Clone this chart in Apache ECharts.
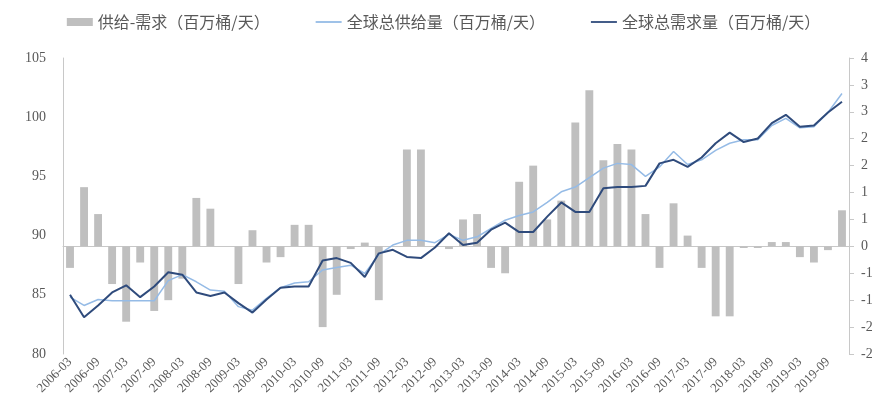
<!DOCTYPE html>
<html>
<head>
<meta charset="utf-8">
<script src="https://cdn.jsdelivr.net/npm/echarts@6/dist/echarts.min.js"></script>
<style>
html,body{margin:0;padding:0;background:#fff;}
#chart{width:887px;height:419px;}
</style>
</head>
<body>
<div id="chart"></div>
<script>
var categories = [
 '2006-03','2006-06','2006-09','2006-12','2007-03','2007-06','2007-09','2007-12',
 '2008-03','2008-06','2008-09','2008-12','2009-03','2009-06','2009-09','2009-12',
 '2010-03','2010-06','2010-09','2010-12','2011-03','2011-06','2011-09','2011-12',
 '2012-03','2012-06','2012-09','2012-12','2013-03','2013-06','2013-09','2013-12',
 '2014-03','2014-06','2014-09','2014-12','2015-03','2015-06','2015-09','2015-12',
 '2016-03','2016-06','2016-09','2016-12','2017-03','2017-06','2017-09','2017-12',
 '2018-03','2018-06','2018-09','2018-12','2019-03','2019-06','2019-09','2019-12'
];
var balance = [
 -0.4, 1.1, 0.6, -0.7, -1.4, -0.3, -1.2, -1.0, -0.6, 0.9,
 0.7, 0.0, -0.7, 0.3, -0.3, -0.2, 0.4, 0.4, -1.5, -0.9,
 -0.05, 0.07, -1.0, 0.0, 1.8, 1.8, 0.0, -0.05, 0.5, 0.6,
 -0.4, -0.5, 1.2, 1.5, 0.5, 0.85, 2.3, 2.9, 1.6, 1.9,
 1.8, 0.6, -0.4, 0.8, 0.2, -0.4, -1.3, -1.3, -0.03, -0.03,
 0.08, 0.08, -0.2, -0.3, -0.07, 0.67
];
var supply = [
 84.8, 84.1, 84.6, 84.5, 84.5, 84.5, 84.5, 86.2, 86.7, 86.1,
 85.4, 85.3, 84.0, 83.7, 84.7, 85.6, 86.0, 86.1, 87.1, 87.3,
 87.5, 86.8, 88.4, 89.2, 89.6, 89.6, 89.4, 90.1, 89.6, 89.9,
 90.6, 91.3, 91.7, 92.0, 92.8, 93.7, 94.1, 94.9, 95.7, 96.1,
 96.0, 95.0, 95.8, 97.1, 96.0, 96.4, 97.2, 97.8, 98.1, 98.1,
 99.3, 99.9, 99.1, 99.2, 100.4, 102.0
];
var demand = [
 85.0, 83.1, 84.1, 85.2, 85.8, 84.8, 85.7, 86.9, 86.7, 85.2,
 84.9, 85.2, 84.3, 83.5, 84.6, 85.6, 85.7, 85.7, 87.9, 88.1,
 87.7, 86.5, 88.5, 88.8, 88.2, 88.1, 89.0, 90.2, 89.2, 89.4,
 90.5, 91.1, 90.3, 90.3, 91.6, 92.8, 92.0, 92.0, 94.0, 94.1,
 94.1, 94.2, 96.1, 96.4, 95.8, 96.6, 97.8, 98.7, 97.9, 98.2,
 99.5, 100.2, 99.2, 99.3, 100.4, 101.3
];
var seriesNames = ['供给-需求（百万桶/天）', '全球总供给量（百万桶/天）', '全球总需求量（百万桶/天）'];

var chart = echarts.init(document.getElementById('chart'), null, {renderer: 'canvas'});
var serif = '"Liberation Serif", "Times New Roman", serif';
var axisColor = '#c8c8c8';
var labelColor = '#595959';
var lineIcon = 'path://M0,0L0,0M0,8L0,8M0,3.1L26,3.1L26,4.9L0,4.9Z';
chart.setOption({
  animation: false,
  backgroundColor: '#fff',
  legend: {
    top: 9,
    left: 'center',
    itemWidth: 26,
    itemHeight: 8,
    itemGap: 46,
    textStyle: {fontFamily: '"Noto Sans CJK SC", sans-serif', fontSize: 16, color: labelColor},
    data: [
      {name: seriesNames[0], icon: 'rect'},
      {name: seriesNames[1], icon: lineIcon},
      {name: seriesNames[2], icon: lineIcon}
    ]
  },
  grid: {left: 63, right: 38, top: 58, bottom: 65},
  xAxis: {
    type: 'category',
    data: categories,
    boundaryGap: true,
    axisLine: {lineStyle: {color: axisColor, width: 1}},
    axisTick: {show: false},
    axisLabel: {interval: 1, rotate: 45, fontFamily: serif, fontSize: 13, color: labelColor, margin: 6}
  },
  yAxis: [
    {
      type: 'value', min: 80, max: 105, interval: 5, position: 'left',
      axisLine: {show: true, lineStyle: {color: axisColor}},
      axisTick: {show: false},
      splitLine: {show: false},
      axisLabel: {fontFamily: serif, fontSize: 14, color: labelColor, margin: 17}
    },
    {
      type: 'value', min: -2, max: 3.5, interval: 0.5, position: 'right',
      axisLine: {show: true, lineStyle: {color: axisColor}},
      axisTick: {show: true, length: 5, lineStyle: {color: axisColor}},
      splitLine: {show: false},
      axisLabel: {
        fontFamily: serif, fontSize: 14, color: labelColor, margin: 12,
        formatter: function (v) { var r = Math.round(Math.abs(v)); return (v < 0 && r !== 0 ? '-' : '') + r; }
      }
    }
  ],
  series: [
    {
      name: seriesNames[0], type: 'bar', yAxisIndex: 1, data: balance,
      barWidth: '56%', itemStyle: {color: '#bfbfbf'}
    },
    {
      name: seriesNames[1], type: 'line', yAxisIndex: 0, data: supply,
      symbol: 'none', lineStyle: {color: '#95bbe6', width: 1.5}, itemStyle: {color: '#95bbe6'}
    },
    {
      name: seriesNames[2], type: 'line', yAxisIndex: 0, data: demand,
      symbol: 'none', lineStyle: {color: '#2f4b7c', width: 2}, itemStyle: {color: '#2f4b7c'}
    }
  ]
});
</script>
</body>
</html>
